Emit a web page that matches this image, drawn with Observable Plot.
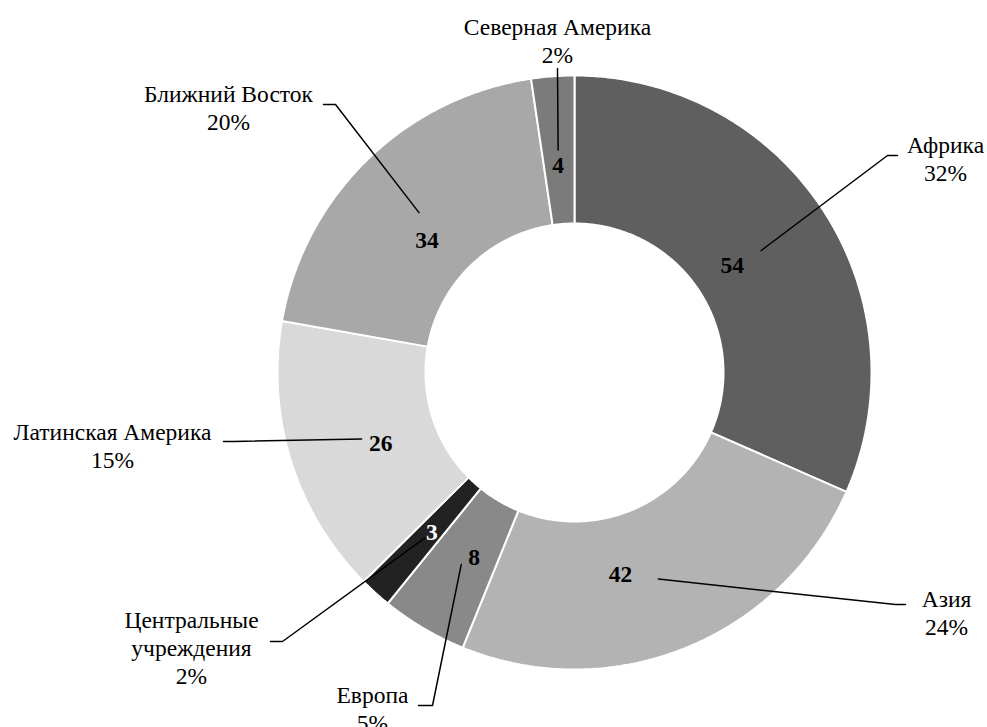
<!DOCTYPE html>
<html><head><meta charset="utf-8">
<script src="https://cdn.jsdelivr.net/npm/d3@7"></script>
<script src="https://cdn.jsdelivr.net/npm/@observablehq/plot@0.6"></script>
<style>body{margin:0;background:#fff}</style>
</head><body><div id="chart"></div>
<script>
// ---- data ----
const regions = ["Африка","Азия","Европа","Центральные учреждения","Латинская Америка","Ближний Восток","Северная Америка"];
const values = [54, 42, 8, 3, 26, 34, 4];
const percentLabels = ["32%","24%","5%","2%","15%","20%","2%"];
const outerNames = ["Африка","Азия","Европа","Центральные\nучреждения","Латинская Америка","Ближний Восток","Северная Америка"];
const sliceColors = ["#5f5f5f","#b3b3b3","#898989","#222222","#d9d9d9","#a8a8a8","#7b7b7b"];

// ---- layout (pixels) ----
const W = 987, H = 727, cx = 574, cy = 372, rOuter = 297, rInner = 149;
const rMid = (rOuter + rInner) / 2;
const layout = [
  {vdx:-29, vdy:15,  elbow:[887,155], end:[897,155], label:[945,158]},
  {vdx:-38, vdy:-5,  elbow:[895,604], end:[905,604], label:[946,612]},
  {vdx:13,  vdy:-7,  elbow:[432,705], end:[418,705], label:[372,708]},
  {vdx:7,   vdy:-5,  elbow:[282,641], end:[270,641], label:[191,647]},
  {vdx:19,  vdy:4,   elbow:[233,441], end:[223,441], label:[112,445]},
  {vdx:8,   vdy:28,  elbow:[335,104], end:[323,104], label:[228,107]},
  {vdx:0,   vdy:15,  elbow:[557,68],  end:[557,68],  label:[557,40]}
];

const total = d3.sum(values);
const pt = (a, r) => [cx + r * Math.sin(a), cy - r * Math.cos(a)];

let acc = 0;
const slices = regions.map((name, i) => {
  const a0 = acc / total * 2 * Math.PI;
  acc += values[i];
  const a1 = acc / total * 2 * Math.PI;
  return {name, i, a0, a1, mid: (a0 + a1) / 2};
});

const ringPts = [];
for (const s of slices) {
  const n = Math.max(4, Math.ceil((s.a1 - s.a0) / (Math.PI / 360)));
  const outer = d3.range(n + 1).map(k => pt(s.a0 + (s.a1 - s.a0) * k / n, rOuter));
  const inner = d3.range(n + 1).map(k => pt(s.a1 - (s.a1 - s.a0) * k / n, rInner));
  const all = [...outer, ...inner, outer[0]];
  for (const [x, y] of all) ringPts.push({name: s.name, x, y});
}

const leaderPts = [];
slices.forEach((s, i) => {
  const c = pt(s.mid, rMid);
  const L = layout[i];
  leaderPts.push({k: i, x: c[0], y: c[1]});
  leaderPts.push({k: i, x: L.elbow[0], y: L.elbow[1]});
  leaderPts.push({k: i, x: L.end[0], y: L.end[1]});
});

const valueLabels = slices.map((s, i) => {
  const c = pt(s.mid, rMid);
  return {x: c[0] + layout[i].vdx, y: c[1] + layout[i].vdy, text: String(values[i]), dark: sliceColors[i] === "#222222"};
});
const outerLabels = slices.map((s, i) => ({x: layout[i].label[0], y: layout[i].label[1], text: outerNames[i] + "\n" + percentLabels[i]}));

const serif = "'Liberation Serif', 'Times New Roman', serif";
const chart = Plot.plot({
  width: W, height: H, margin: 0,
  x: {domain: [0, W], range: [0, W], axis: null},
  y: {domain: [0, H], range: [0, H], axis: null},
  color: {domain: regions, range: sliceColors},
  style: {fontFamily: serif, background: "#fff"},
  marks: [
    Plot.line(ringPts, {x: "x", y: "y", z: "name", fill: "name", stroke: "white", strokeWidth: 2, strokeLinejoin: "miter", curve: "linear"}),
    Plot.line(leaderPts, {x: "x", y: "y", z: "k", stroke: "black", strokeWidth: 1.5, curve: "linear"}),
    Plot.text(valueLabels.filter(d => !d.dark), {x: "x", y: "y", text: "text", fontSize: 23.5, fontWeight: "bold", fill: "black", fontFamily: serif}),
    Plot.text(valueLabels.filter(d => d.dark), {x: "x", y: "y", text: "text", fontSize: 23.5, fontWeight: "bold", fill: "white", fontFamily: serif}),
    Plot.text(outerLabels, {x: "x", y: "y", text: "text", fontSize: 23.5, lineHeight: 1.19, fill: "black", fontFamily: serif})
  ]
});
document.getElementById("chart").appendChild(chart);
</script>
</body></html>
